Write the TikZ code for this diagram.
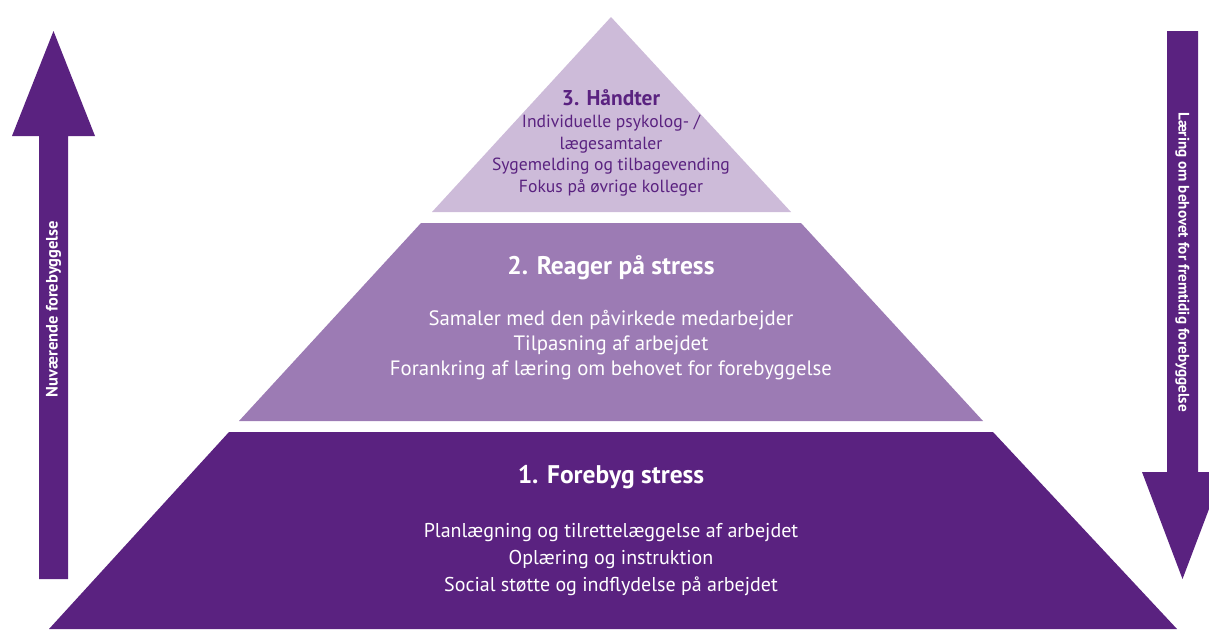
\documentclass[tikz,border=0pt]{standalone}
\usepackage{fontspec}
\usetikzlibrary{positioning}
\setmainfont{PT Sans}
\definecolor{deep}{HTML}{5A2280}
\definecolor{midlilla}{HTML}{9C7BB4}
\definecolor{lyslilla}{HTML}{CDBBD9}

\begin{document}
\begin{tikzpicture}[x=1pt, y=-1pt,
  band/.style = {fill=#1, draw=none},
  titel/.style = {font=\bfseries\fontsize{#1}{#1}\selectfont, text=white, inner sep=0pt},
  punkter/.style = {align=center, text=white, inner sep=0pt},
  pil/.style = {fill=deep, draw=none},
  piltekst/.style = {font=\bfseries\fontsize{#1}{#1}\selectfont, text=white, inner sep=0pt}]
\useasboundingbox (0,0) rectangle (1209,629);
% pyramiden
\fill[band=deep] (49,629) -- (229,432) -- (993,432) -- (1177,629) -- cycle;
\fill[band=midlilla] (239,421) -- (421,223) -- (801,223) -- (983,421) -- cycle;
\fill[band=lyslilla] (432,212) -- (611,17) -- (791,212) -- cycle;
% pile
\fill[pil] (39,579) -- (39,136) -- (12,136) -- (53.5,31) -- (95,136) -- (68,136) -- (68,579) -- cycle;
\fill[pil] (1167,31) -- (1167,472) -- (1142,472) -- (1182.5,579) -- (1223,472) -- (1198,472) -- (1198,31) -- cycle;
\node[piltekst=16.5, rotate=90] (nu) at (53.5,309) {Nuværende forebyggelse};
\node[piltekst=15.2, rotate=-90] (fremtid) at (1182.5,262) {Læring om behovet for fremtidig forebyggelse};
% niveau 3
\node[titel=21.4, text=deep] (t3) at (611,98) {3. Håndter};
\node[punkter, text=deep, font=\fontsize{17.6}{21.7}\selectfont] (p3) at (611,155.5)
  {Individuelle psykolog- /\\ lægesamtaler\\ Sygemelding og tilbagevending\\ Fokus på øvrige kolleger};
% niveau 2
\node[titel=25.5] (t2) at (611,267.5) {2. Reager på stress};
\node[punkter, font=\fontsize{20.8}{25}\selectfont] (p2) at (611,345)
  {Samaler med den påvirkede medarbejder\\ Tilpasning af arbejdet\\ Forankring af læring om behovet for forebyggelse};
% niveau 1
\node[titel=25.5] (t1) at (611,477.5) {1. Forebyg stress};
\node[punkter, font=\fontsize{20}{27}\selectfont] (p1) at (611,559.5)
  {Planlægning og tilrettelæggelse af arbejdet\\ Oplæring og instruktion\\ Social støtte og indflydelse på arbejdet};
\end{tikzpicture}
\end{document}
